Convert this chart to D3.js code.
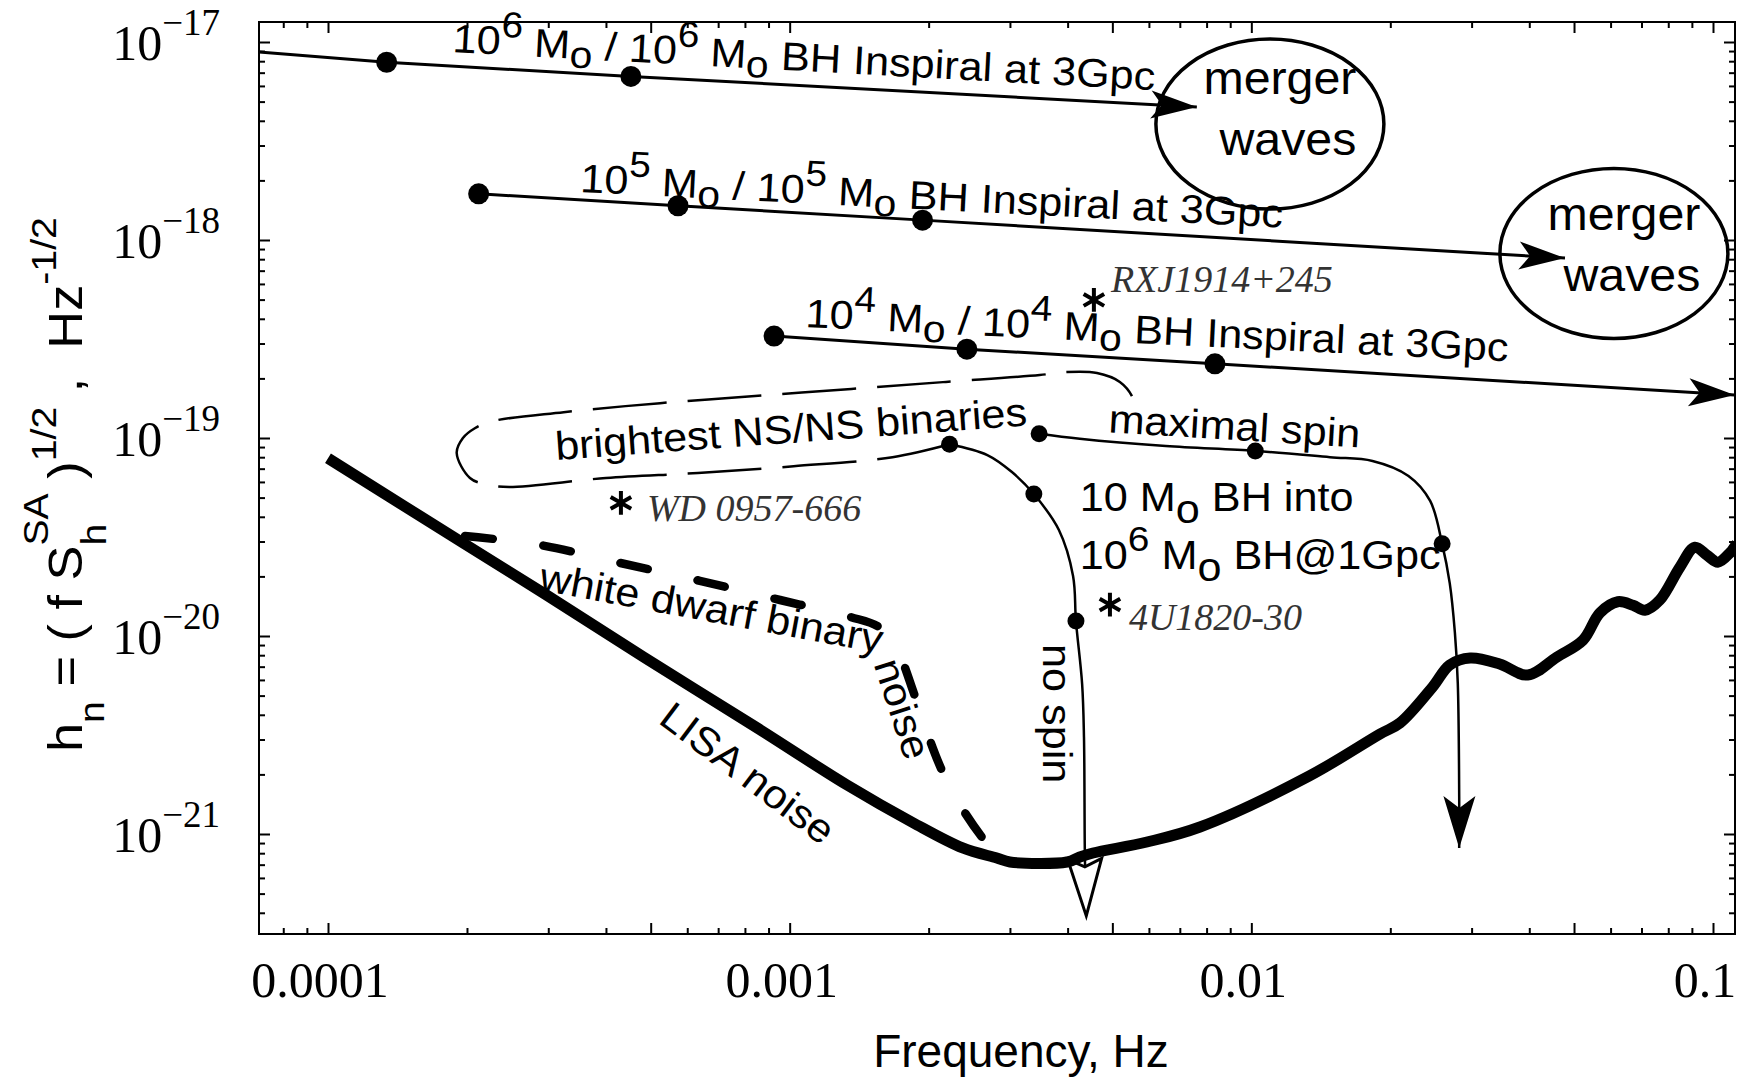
<!DOCTYPE html>
<html>
<head>
<meta charset="utf-8">
<title>LISA sensitivity and sources</title>
<script src="https://cdn.jsdelivr.net/npm/d3@7/dist/d3.min.js"></script>
<style>
  body { margin: 0; background: #fff; }
  svg { display: block; }
  text { white-space: pre; }
  .sans { font-family: "Liberation Sans", Arial, Helvetica, sans-serif; }
  .serif { font-family: "Liberation Serif", "Times New Roman", serif; }
</style>
</head>
<body>
<svg id="chart" width="1742" height="1081"></svg>
<script>
// values: frequency in Hz, h_n in Hz^-1/2

// LISA noise curve
const lisaF = [1.0e-4, 1.98e-4, 2.95e-4, 4.83e-4, 8.58e-4, 1.33e-3, 1.85e-3, 2.37e-3, 2.81e-3, 3.0e-3,
  3.99e-3, 4.25e-3, 4.54e-3, 5.94e-3, 7.74e-3, 1.333e-2, 1.90e-2, 2.10e-2, 2.47e-2,
  2.69e-2, 2.98e-2, 3.45e-2, 3.97e-2, 4.59e-2, 5.23e-2, 5.69e-2, 6.22e-2, 6.71e-2, 7.12e-2,
  7.67e-2, 8.48e-2, 9.14e-2, 9.70e-2, 0.1025, 0.1088, 0.1127]
const lisaH = [7.9e-20, 2.91e-20, 1.63e-20, 7.83e-21, 3.39e-21, 1.77e-21, 1.14e-21, 8.5e-22, 7.56e-22, 7.22e-22,
  7.22e-22, 7.65e-22, 8.02e-22, 9.11e-22, 1.085e-21, 1.96e-21, 3.2e-21, 3.64e-21, 5.53e-21,
  7.14e-21, 7.74e-21, 7.22e-21, 6.35e-21, 7.83e-21, 9.54e-21, 1.31e-20, 1.49e-20, 1.43e-20, 1.35e-20,
  1.52e-20, 2.23e-20, 2.81e-20, 2.56e-20, 2.36e-20, 2.63e-20, 2.95e-20]

// white dwarf binary noise (thick dashed)
const wdF = [1.98e-4, 2.88e-4, 4.29e-4, 6.39e-4, 9.53e-4, 1.35e-3, 1.57e-3, 1.71e-3, 1.86e-3, 2.01e-3, 2.14e-3, 2.34e-3, 2.64e-3, 2.80e-3]
const wdH = [3.2e-20, 2.88e-20, 2.34e-20, 1.90e-20, 1.52e-20, 1.25e-20, 1.10e-20, 8.5e-21, 5.1e-21, 3.0e-21, 2.08e-21, 1.40e-21, 9.3e-22, 8.0e-22]

// brightest NS/NS binaries loop (dashed, open on the right)
const nsF = [2.22e-3, 1.67e-3, 1.02e-3, 6.33e-4, 4.0e-4, 2.47e-4, 2.22e-4, 2.03e-4, 1.90e-4, 1.96e-4, 2.08e-4, 2.25e-4,
  3.24e-4, 5.24e-4, 8.41e-4, 1.36e-3, 2.18e-3, 3.48e-3, 3.95e-3, 4.63e-3, 5.19e-3, 5.54e-3, 5.60e-3]
const nsH = [9.3e-20, 8.0e-20, 7.2e-20, 6.66e-20, 6.28e-20, 5.66e-20, 5.8e-20, 6.28e-20, 8.4e-20, 1.0e-19, 1.12e-19, 1.21e-19,
  1.35e-19, 1.50e-19, 1.63e-19, 1.77e-19, 1.92e-19, 2.08e-19, 2.15e-19, 2.13e-19, 1.92e-19, 1.59e-19, 1.29e-19]

// BH/BH inspirals at 3Gpc: start, dots..., arrow tip
const insp6F = [7.09e-5, 1.34e-4, 4.53e-4, 7.62e-3]
const insp6H = [8.9e-18, 7.9e-18, 6.7e-18, 4.7e-18]
const insp5F = [2.12e-4, 5.73e-4, 1.94e-3, 4.78e-2]
const insp5H = [1.71e-18, 1.49e-18, 1.26e-18, 8.1e-19]
const insp4F = [9.25e-4, 2.42e-3, 8.34e-3, 0.1114]
const insp4H = [3.27e-19, 2.81e-19, 2.37e-19, 1.65e-19]

// 10 Mo BH into 10^6 Mo BH at 1Gpc
const noSpinF = [2.22e-3, 2.68e-3, 3.03e-3, 3.38e-3, 3.83e-3, 4.11e-3, 4.17e-3, 4.30e-3, 4.34e-3, 4.36e-3, 4.39e-3]
const noSpinH = [9.3e-20, 8.2e-20, 6.73e-20, 5.21e-20, 3.43e-20, 2.01e-20, 1.19e-20, 5.73e-21, 3.09e-21, 7.65e-22, 3.86e-22]
const noSpinDots = [0, 3, 6]
const maxSpinF = [3.47e-3, 4.25e-3, 6.53e-3, 1.02e-2, 1.48e-2, 1.83e-2, 2.19e-2, 2.44e-2, 2.59e-2, 2.69e-2, 2.76e-2, 2.80e-2, 2.82e-2, 2.82e-2]
const maxSpinH = [1.05e-19, 9.9e-20, 9.1e-20, 8.6e-20, 8.0e-20, 7.66e-20, 6.43e-20, 4.81e-20, 2.92e-20, 1.85e-20, 1.04e-20, 5.8e-21, 1.54e-21, 8.5e-22]
const maxSpinDots = [0, 3, 8]

// merger-wave circles (centres)
const mergerF = [1.097e-2, 6.10e-2]
const mergerH = [3.85e-18, 8.55e-19]

// known binaries
const starNames = ["RXJ1914+245", "WD 0957-666", "4U1820-30"]
const starF = [4.56e-3, 4.31e-4, 4.94e-3]
const starH = [4.98e-19, 4.70e-20, 1.44e-20]

// axis labels
const xTickValues = [1e-4, 1e-3, 1e-2, 1e-1]
const xTickLabels = ["0.0001", "0.001", "0.01", "0.1"]
const yTickExp = [-17, -18, -19, -20, -21]

// text with super/subscripts: [text, shift(em, + is down), size factor, dx(em)]
const sup = s => [s, -0.45, 0.9]
const subO = ["o", 0.22, 0.95]
const insp6Text = [["10"], sup("6"), [" M"], subO, [" / 10"], sup("6"), [" M"], subO, [" BH Inspiral at 3Gpc"]]
const insp5Text = [["10"], sup("5"), [" M"], subO, [" / 10"], sup("5"), [" M"], subO, [" BH Inspiral at 3Gpc"]]
const insp4Text = [["10"], sup("4"), [" M"], subO, [" / 10"], sup("4"), [" M"], subO, [" BH Inspiral at 3Gpc"]]

const notes = [
  { parts: insp6Text, f: 1.856e-4, h: 8.90e-18, angle: 3.1 },
  { parts: insp5Text, f: 3.51e-4, h: 1.75e-18, angle: 2.9 },
  { parts: insp4Text, f: 1.08e-3, h: 3.64e-19, angle: 2.8 },
  { parts: [["brightest NS/NS binaries"]], f: 3.12e-4, h: 7.74e-20, angle: -4.2 },
  { parts: [["white dwarf binary"]], f: 2.85e-4, h: 1.71e-20, angle: 10.5 },
  { parts: [["noise"]], f: 1.52e-3, h: 7.22e-21, angle: 72 },
  { parts: [["LISA noise"]], f: 5.16e-4, h: 3.68e-21, angle: 37 },
  { parts: [["maximal spin"]], f: 4.89e-3, h: 1.07e-19, angle: 3.5 },
  { parts: [["10 M"], ["o", 0.3, 1], [" BH into", 0]], f: 4.25e-3, h: 4.28e-20, angle: 0 },
  { parts: [["10"], sup("6"), [" M"], ["o", 0.3, 1], [" BH@1Gpc", 0]], f: 4.25e-3, h: 2.18e-20, angle: 0 },
  { parts: [["no spin"]], f: 3.54e-3, h: 9.11e-21, angle: 90 }
]

const svg = d3.select("#chart")
const frame = { left: 259, right: 1735, top: 22, bottom: 934 }

const x = d3.scaleLog().domain([1e-4, 1e-1]).range([328, 1713])
const y = d3.scaleLog().domain([1e-17, 1e-21]).range([42, 834])

const pts = (fs, hs) => fs.map((f, i) => [x(f), y(hs[i])])
const smooth = d3.line().curve(d3.curveCatmullRom.alpha(0.5))
const straight = d3.line()

function rich(g, parts, size) {
  const t = g.append("text").attr("font-size", size)
  let cur = 0
  parts.forEach(p => {
    const [str, shift = 0, scale = 1, dx = 0] = p
    t.append("tspan")
      .attr("dy", (shift - cur) * size)
      .attr("dx", dx * size)
      .attr("font-size", size * scale)
      .text(str)
    cur = shift
  })
  return t
}

// defs: clip + arrowheads
const defs = svg.append("defs")
defs.append("clipPath").attr("id", "plot-clip").append("rect")
  .attr("x", frame.left).attr("y", frame.top)
  .attr("width", frame.right - frame.left).attr("height", frame.bottom - frame.top)

function marker(id, d, hollow) {
  defs.append("marker").attr("id", id)
    .attr("markerUnits", "userSpaceOnUse")
    .attr("viewBox", "-66 -24 72 48")
    .attr("markerWidth", 72).attr("markerHeight", 48)
    .attr("refX", 0).attr("refY", 0)
    .attr("orient", "auto")
    .attr("overflow", "visible")
    .append("path").attr("d", d)
    .attr("fill", hollow ? "#fff" : "#000")
    .attr("stroke", hollow ? "#000" : "none")
    .attr("stroke-width", 3)
}
marker("barb", "M0,0L-46,-14L-35,0L-46,14Z", false)
marker("barb-down", "M0,0L-52,-16L-40,0L-52,16Z", false)
marker("hollow", "M0,0L-57,-17L-49,0L-57,17Z", true)

// frame and ticks
const xLo = x.invert(frame.left), xHi = x.invert(frame.right)
const yLo = y.invert(frame.bottom), yHi = y.invert(frame.top)
const allTicks = []
d3.range(-23, 0).forEach(e => d3.range(1, 10).forEach(k => allTicks.push({ v: k * Math.pow(10, e), k })))
const xT = allTicks.filter(t => t.v >= xLo && t.v <= xHi)
const yT = allTicks.filter(t => t.v >= yLo && t.v <= yHi)
const xMajor = xT.filter(t => t.k === 1 || t.k === 5).map(t => t.v)
const xMinor = xT.filter(t => !(t.k === 1 || t.k === 5)).map(t => t.v)
const yMajor = yT.filter(t => t.k === 1).map(t => t.v)
const yMinor = yT.filter(t => t.k !== 1).map(t => t.v)

function ticks(axisFn, scale, values, size, transform) {
  svg.append("g").attr("transform", transform)
    .call(axisFn(scale).tickValues(values).tickSize(size).tickFormat(""))
    .call(g => g.select(".domain").remove())
    .selectAll("line").attr("stroke", "#000").attr("stroke-width", 2)
}
ticks(d3.axisTop, x, xMajor, 11, `translate(0,${frame.bottom})`)
ticks(d3.axisTop, x, xMinor, 6, `translate(0,${frame.bottom})`)
ticks(d3.axisBottom, x, xMajor, 11, `translate(0,${frame.top})`)
ticks(d3.axisBottom, x, xMinor, 6, `translate(0,${frame.top})`)
ticks(d3.axisRight, y, yMajor, 11, `translate(${frame.left},0)`)
ticks(d3.axisRight, y, yMinor, 6, `translate(${frame.left},0)`)
ticks(d3.axisLeft, y, yMajor, 11, `translate(${frame.right},0)`)
ticks(d3.axisLeft, y, yMinor, 6, `translate(${frame.right},0)`)

svg.append("rect")
  .attr("x", frame.left).attr("y", frame.top)
  .attr("width", frame.right - frame.left).attr("height", frame.bottom - frame.top)
  .attr("fill", "none").attr("stroke", "#000").attr("stroke-width", 2)

// tick labels
svg.append("g").attr("class", "serif")
  .selectAll("text").data(xTickValues).join("text")
  .attr("x", d => x(d) - 8).attr("y", 997)
  .attr("text-anchor", "middle").attr("font-size", 50)
  .text((d, i) => xTickLabels[i])

const yLab = svg.append("g").attr("class", "serif")
yTickExp.forEach(e => {
  rich(yLab, [["10"], ["\u2212" + Math.abs(e), -0.5, 0.74]], 50)
    .attr("x", 220).attr("y", y(Math.pow(10, e)) + 18)
    .attr("text-anchor", "end")
})

// axis titles
svg.append("text").attr("class", "sans")
  .attr("x", 1021).attr("y", 1067).attr("text-anchor", "middle")
  .attr("font-size", 46).text("Frequency, Hz")

const yTitle = svg.append("g").attr("class", "sans")
  .attr("transform", "translate(82,752) rotate(-90) scale(1.09,1)")
rich(yTitle, [["h"], ["n", 0.45, 0.75], [" = ( f S", 0], ["h", 0.5, 0.75], ["SA", -0.7, 0.75, -0.417],
  [" )", 0], ["1/2", -0.55, 0.75], [" ,  Hz", 0], ["-1/2", -0.55, 0.75]], 48)

// NS/NS loop
svg.append("path")
  .attr("d", smooth(pts(nsF, nsH)))
  .attr("fill", "none").attr("stroke", "#000").attr("stroke-width", 2.5)
  .attr("stroke-dasharray", "74,21")

// white dwarf binary noise
svg.append("path")
  .attr("d", smooth(pts(wdF, wdH)))
  .attr("fill", "none").attr("stroke", "#000").attr("stroke-width", 8.5)
  .attr("stroke-linecap", "round").attr("stroke-dasharray", "28,51")

// inspirals
const inspirals = [[insp6F, insp6H], [insp5F, insp5H], [insp4F, insp4H]]
inspirals.forEach(([fs, hs]) => {
  svg.append("path")
    .attr("d", straight(pts(fs, hs)))
    .attr("fill", "none").attr("stroke", "#000").attr("stroke-width", 3)
    .attr("marker-end", "url(#barb)")
  svg.append("g").selectAll("circle")
    .data(fs.slice(0, -1).map((f, i) => [f, hs[i]]).filter(d => d[0] > xLo * 1.05))
    .join("circle")
    .attr("cx", d => x(d[0])).attr("cy", d => y(d[1])).attr("r", 10.5)
})

// merger waves
const mergerTextDy = [[-30, 31], [-23, 38]]
const merger = svg.append("g").attr("class", "sans")
mergerF.forEach((f, i) => {
  const cx = x(f), cy = y(mergerH[i])
  merger.append("ellipse").attr("cx", cx).attr("cy", cy).attr("rx", 114).attr("ry", 85)
    .attr("fill", "none").attr("stroke", "#000").attr("stroke-width", 3.5)
  merger.append("text").attr("font-size", 46).attr("text-anchor", "middle")
    .attr("transform", `translate(${cx + 10},${cy + mergerTextDy[i][0]}) scale(1.05,1)`).text("merger")
  merger.append("text").attr("font-size", 46).attr("text-anchor", "middle")
    .attr("transform", `translate(${cx + 18},${cy + mergerTextDy[i][1]}) scale(1.05,1)`).text("waves")
})

// 10 Mo BH into 10^6 Mo BH
svg.append("path")
  .attr("d", smooth(pts(maxSpinF, maxSpinH)))
  .attr("fill", "none").attr("stroke", "#000").attr("stroke-width", 2.5)
  .attr("marker-end", "url(#barb-down)")
svg.append("path")
  .attr("d", smooth(pts(noSpinF, noSpinH)))
  .attr("fill", "none").attr("stroke", "#000").attr("stroke-width", 2.5)
  .attr("marker-end", "url(#hollow)")

// LISA noise
svg.append("path")
  .attr("clip-path", "url(#plot-clip)")
  .attr("d", smooth(pts(lisaF, lisaH)))
  .attr("fill", "none").attr("stroke", "#000").attr("stroke-width", 11)
  .attr("stroke-linejoin", "round")

svg.append("g").selectAll("circle")
  .data([...noSpinDots.map(i => [noSpinF[i], noSpinH[i]]), ...maxSpinDots.map(i => [maxSpinF[i], maxSpinH[i]])])
  .join("circle")
  .attr("cx", d => x(d[0])).attr("cy", d => y(d[1])).attr("r", 8.5)

// known binaries
const asterisk = {
  draw(ctx, size) {
    const r = Math.sqrt(size) / 2
    for (let i = 0; i < 3; i++) {
      const a = Math.PI / 2 + i * Math.PI / 3
      ctx.moveTo(r * Math.cos(a), r * Math.sin(a))
      ctx.lineTo(-r * Math.cos(a), -r * Math.sin(a))
    }
  }
}
const starLabelOffset = [[17, -8], [26, 18], [19, 25]]
const stars = svg.append("g")
stars.selectAll("path").data(starF).join("path")
  .attr("transform", (d, i) => `translate(${x(d)},${y(starH[i])})`)
  .attr("d", d3.symbol().type(asterisk).size(560))
  .attr("fill", "none").attr("stroke", "#000").attr("stroke-width", 4)
stars.selectAll("text").data(starF).join("text")
  .attr("class", "serif")
  .attr("x", (d, i) => x(d) + starLabelOffset[i][0])
  .attr("y", (d, i) => y(starH[i]) + starLabelOffset[i][1])
  .attr("font-size", 38).attr("font-style", "italic").attr("fill", "#333")
  .text((d, i) => starNames[i])

// annotations
const noteG = svg.append("g").attr("class", "sans")
notes.forEach(n => {
  const g = noteG.append("g")
    .attr("transform", `translate(${x(n.f)},${y(n.h)}) rotate(${n.angle}) scale(1.08,1)`)
  rich(g, n.parts, 40)
})
</script>
</body>
</html>
